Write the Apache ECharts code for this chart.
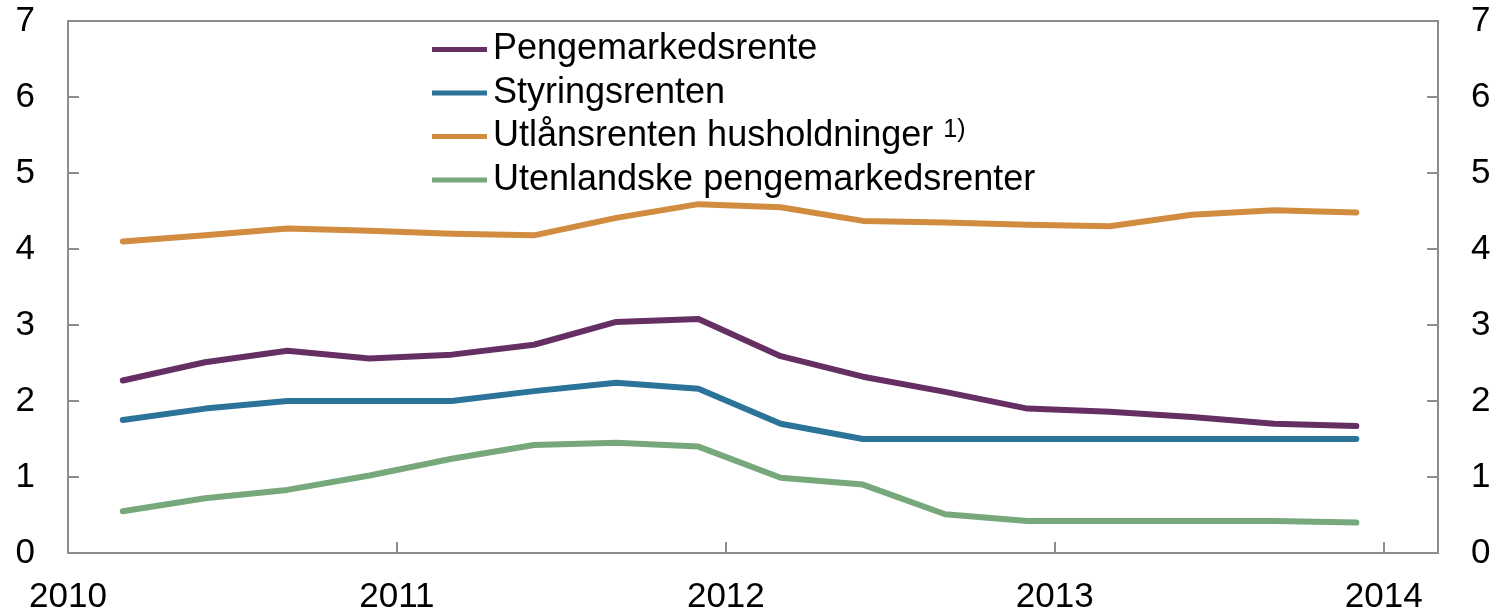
<!DOCTYPE html>
<html>
<head>
<meta charset="utf-8">
<script src="https://cdn.jsdelivr.net/npm/echarts@6/dist/echarts.min.js"></script>
<style>
html, body { margin: 0; padding: 0; background: #fff; }
#chart { width: 1499px; height: 615px; }
</style>
</head>
<body>
<div id="chart"></div>
<script>
// quarterly observations (first day of month)
var dates = ['2010-03', '2010-06', '2010-09', '2010-12', '2011-03', '2011-06', '2011-09', '2011-12',
	'2012-03', '2012-06', '2012-09', '2012-12', '2013-03', '2013-06', '2013-09', '2013-12'];
var pengemarked = [2.27, 2.51, 2.66, 2.56, 2.61, 2.74, 3.04, 3.08, 2.59, 2.32, 2.12, 1.9, 1.86, 1.79, 1.7, 1.67];
var styringsrente = [1.75, 1.9, 2.0, 2.0, 2.0, 2.13, 2.24, 2.16, 1.7, 1.5, 1.5, 1.5, 1.5, 1.5, 1.5, 1.5];
var utlansrente = [4.1, 4.18, 4.27, 4.24, 4.2, 4.18, 4.41, 4.59, 4.55, 4.37, 4.35, 4.32, 4.3, 4.45, 4.51, 4.48];
var utenlandske = [0.55, 0.72, 0.83, 1.02, 1.24, 1.42, 1.45, 1.4, 0.99, 0.9, 0.51, 0.42, 0.42, 0.42, 0.42, 0.4];
var yearTicks = [2010, 2011, 2012, 2013, 2014];
var yTicks = [0, 1, 2, 3, 4, 5, 6, 7];

var names = ['Pengemarkedsrente', 'Styringsrenten', 'Utlånsrenten husholdninger', 'Utenlandske pengemarkedsrenter'];
var colors = ['#652f63', '#2c7399', '#d18c40', '#77a87c'];

function toYear(d) {
	var p = d.split('-');
	return (p[0] - 0) + (p[1] - 1) / 12;
}
function pairs(arr) {
	var out = [];
	for (var i = 0; i < dates.length; i++) {
		out.push([toYear(dates[i]), arr[i]]);
	}
	return out;
}

var FONT = 'Liberation Sans, Arial, sans-serif';
var axisGray = '#8c8c8c';

var chart = echarts.init(document.getElementById('chart'));

var yAxisBase = {
	type: 'value',
	min: yTicks[0],
	max: yTicks[yTicks.length - 1],
	interval: 1,
	splitLine: { show: false },
	axisLine: { show: true, lineStyle: { color: axisGray, width: 2 } },
	axisTick: { show: true, inside: true, length: 11, lineStyle: { color: axisGray, width: 2 } },
	axisLabel: { color: '#000', fontSize: 35, fontFamily: FONT, margin: 33 }
};

var seriesData = [pengemarked, styringsrente, utlansrente, utenlandske];
var series = [];
for (var i = 0; i < names.length; i++) {
	series.push({
		name: names[i],
		type: 'line',
		data: pairs(seriesData[i]),
		showSymbol: false,
		symbol: 'none',
		animation: false,
		lineStyle: { color: colors[i], width: 6, cap: 'round', join: 'round' },
		itemStyle: { color: colors[i] }
	});
}

var option = {
	backgroundColor: '#fff',
	animation: false,
	grid: {
		left: 68, right: 61, top: 21, bottom: 61,
		show: true, borderColor: axisGray, borderWidth: 2
	},
	legend: {
		orient: 'vertical',
		left: 432,
		top: 31,
		padding: 0,
		icon: 'rect',
		itemWidth: 55,
		itemHeight: 5,
		itemGap: 6.5,
		data: names,
		textStyle: {
			color: '#000', fontSize: 36, fontFamily: FONT, lineHeight: 37,
			padding: [0, 0, 0, 1],
			rich: {
				sup: { fontSize: 25, fontFamily: FONT, color: '#000', verticalAlign: 'top', lineHeight: 26, padding: [0, 0, 0, 0] }
			}
		},
		formatter: function (name) {
			if (name === 'Utlånsrenten husholdninger') {
				return name + ' {sup|1)}';
			}
			return name;
		}
	},
	xAxis: {
		type: 'value',
		min: yearTicks[0],
		max: 2014.165,
		interval: 1,
		splitLine: { show: false },
		axisLine: { show: true, lineStyle: { color: axisGray, width: 2 } },
		axisTick: { show: true, inside: true, length: 11, lineStyle: { color: axisGray, width: 2 } },
		axisLabel: {
			color: '#000', fontSize: 35, fontFamily: FONT, margin: 27,
			showMaxLabel: false,
			formatter: function (v) {
				return yearTicks.indexOf(v) >= 0 ? String(v) : '';
			}
		}
	},
	yAxis: [
		echarts.util.merge({ position: 'left' }, yAxisBase, true),
		echarts.util.merge({ position: 'right' }, yAxisBase, true)
	],
	series: series
};

chart.setOption(option);
</script>
</body>
</html>
